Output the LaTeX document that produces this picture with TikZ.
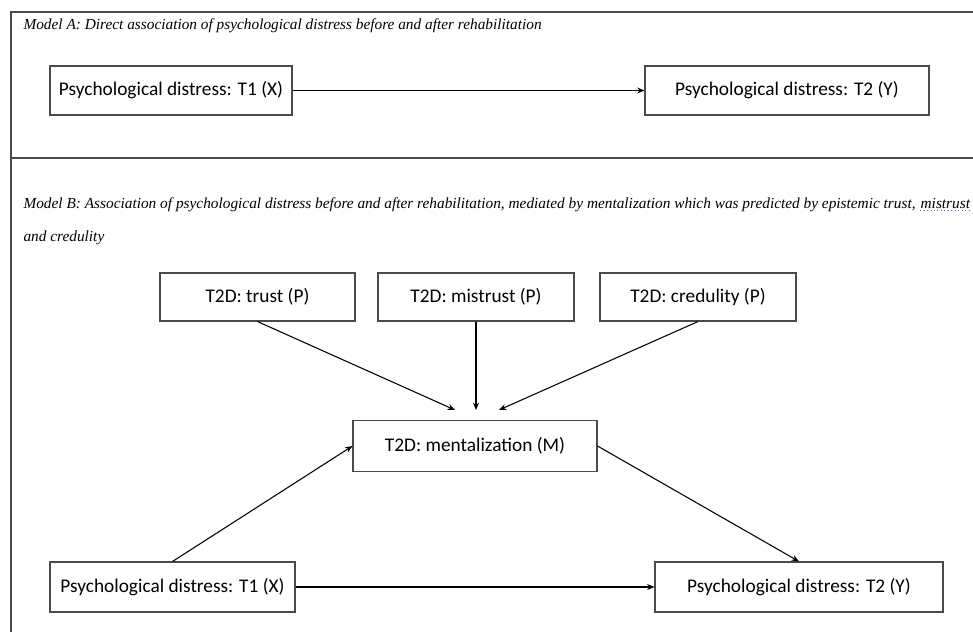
\documentclass[tikz,border=0pt]{standalone}
\usepackage{fontspec}
\setmainfont{Liberation Serif}
\newfontfamily\boxfont{Carlito}
\usetikzlibrary{arrows.meta}
\definecolor{framegray}{HTML}{4A4A4A}
\definecolor{spellblue}{HTML}{5A5AC8}

\begin{document}
\begin{tikzpicture}[x=0.75pt, y=-0.75pt, line width=0.8pt,
  box/.style={draw=framegray, font=\boxfont\fontsize{14.5}{17}\selectfont, inner sep=0pt},
  arr/.style={-{Stealth[length=5.5pt,width=4.5pt]}},
  caption/.style={inner sep=0pt, font=\itshape\fontsize{11.5}{14}\selectfont}]
  \useasboundingbox (0,0) rectangle (973,632);
  % frame and divider
  \draw[framegray, line width=1pt] (11,632) -- (11,12) -- (973,12);
  \draw[framegray, line width=1pt] (11,158) -- (973,158);

  % model A
  \node[caption, anchor=west] (capA) at (23,26) {Model A: Direct association of psychological distress before and after rehabilitation};
  \node[box, minimum width=181.5pt, minimum height=36.75pt] (xA) at (171,90.5) {Psychological distress: T1 (X)};
  \node[box, minimum width=213pt, minimum height=36.75pt] (yA) at (787,90.5) {Psychological distress: T2 (Y)};
  \draw[arr] (xA) -- (yA);

  % model B
  \node[caption, anchor=west] (capB) at (23,205) {Model B: Association of psychological distress before and after rehabilitation, mediated by mentalization which was predicted by epistemic trust,};
  \node[caption, anchor=base west] (capMis) at ([xshift=3pt]capB.base east) {mistrust};
  \draw[spellblue, dotted, line width=0.6pt] ([yshift=-1.5pt]capMis.base west) -- ([yshift=-1.5pt]capMis.base east);
  \node[caption, anchor=west] (capB2) at (23,238) {and credulity};

  \node[box, minimum width=146.25pt, minimum height=36pt] (trust) at (257.5,297) {T2D: trust (P)};
  \node[box, minimum width=147pt, minimum height=36pt] (mistrust) at (476,297) {T2D: mistrust (P)};
  \node[box, minimum width=147pt, minimum height=36pt] (credulity) at (698,297) {T2D: credulity (P)};
  \node[box, minimum width=183pt, minimum height=38.25pt] (ment) at (475,446) {T2D: mentalization (M)};
  \node[box, minimum width=183.75pt, minimum height=37.5pt] (xB) at (172.5,587) {Psychological distress: T1 (X)};
  \node[box, minimum width=216pt, minimum height=37.5pt] (yB) at (799,587) {Psychological distress: T2 (Y)};

  \coordinate (inL) at (455,410);
  \coordinate (inR) at (499,410);
  \draw[arr] (trust.south) -- (inL);
  \draw[arr] (mistrust.south) -- (mistrust.south |- inL);
  \draw[arr] (credulity.south) -- (inR);
  \draw[arr] (xB.north) -- (ment.west);
  \draw[arr] (ment.east) -- (yB.north);
  \draw[arr] (xB) -- (yB);
\end{tikzpicture}
\end{document}
